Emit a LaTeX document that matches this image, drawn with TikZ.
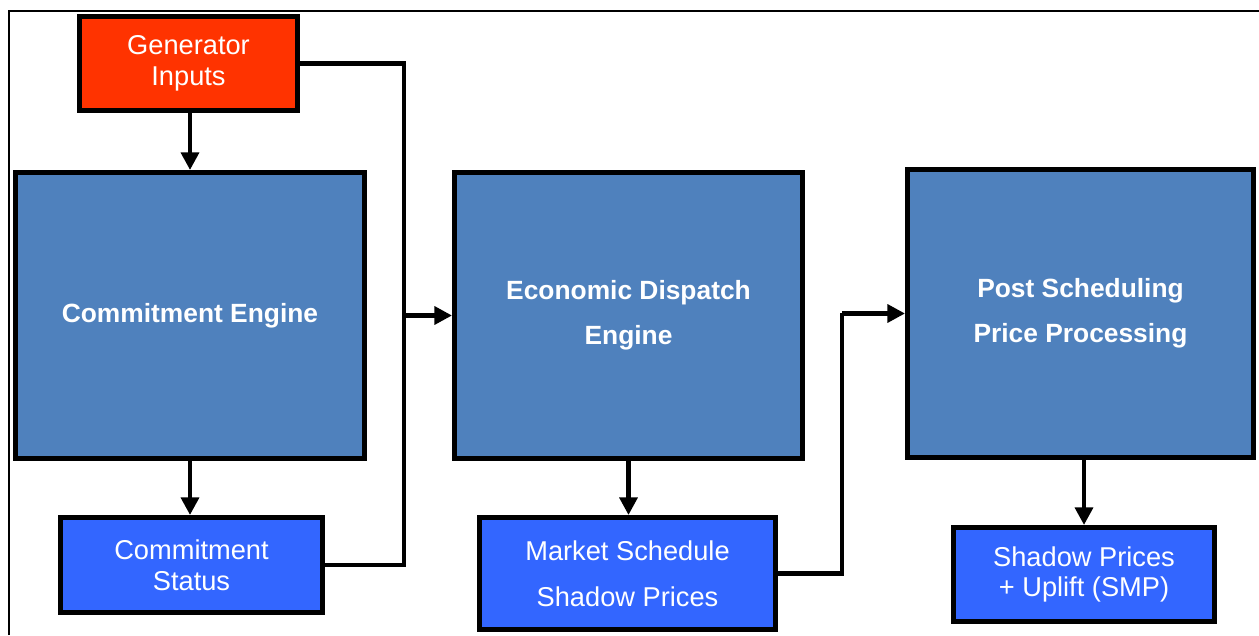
\documentclass[tikz,border=0pt]{standalone}
\usepackage{fontspec}
\setmainfont{Liberation Sans}
\usetikzlibrary{arrows.meta,positioning}

\definecolor{genred}{RGB}{255,51,0}
\definecolor{engblue}{RGB}{79,129,189}
\definecolor{outblue}{RGB}{51,102,255}

\begin{document}
\begin{tikzpicture}[
    box/.style={rectangle,draw=black,line width=2.8pt,text=white,align=center},
    engine/.style={box,fill=engblue,font=\fontsize{15}{25.5}\selectfont\bfseries},
    result/.style={box,fill=outblue,font=\fontsize{15.5}{17.5}\selectfont},
    link/.style={line width=2.5pt},
    flow/.style={link,-{Triangle[length=10pt,width=10pt]}}
  ]
      \useasboundingbox (0,0) rectangle (25.18,12.7);
      % frame
      \draw[line width=1.6pt] (0.18,0) -- (0.18,12.48) -- (25.18,12.48);

      % Commitment stage
      \node[box,fill=genred,font=\fontsize{15.5}{17.5}\selectfont,minimum width=4.36cm, minimum height=1.88cm] (gen) at (3.77,11.43) {Generator\\Inputs};
      \node[engine,minimum width=6.98cm, minimum height=5.72cm] (ce) at (3.80,6.39) {Commitment Engine};
      \node[result,minimum width=5.24cm, minimum height=1.9cm] (cs) at (3.83,1.40) {Commitment\\Status};

      % Dispatch stage
      \node[engine,minimum width=6.96cm, minimum height=5.72cm] (ed) at (12.57,6.39) {Economic Dispatch\\Engine};
      \node[result,font=\fontsize{15.5}{26}\selectfont,minimum width=5.92cm, minimum height=2.24cm] (ms) at (12.55,1.23) {Market Schedule\\Shadow Prices};

      % Pricing stage
      \node[engine,minimum width=6.92cm, minimum height=5.76cm] (ps) at (21.61,6.43) {Post Scheduling\\Price Processing};
      \node[result,minimum width=5.22cm, minimum height=1.88cm] (sp) at (21.68,1.21) {Shadow Prices\\+ Uplift (SMP)};

      \coordinate (bus1) at (8.08,6.39);
      \coordinate (bus2) at (16.84,6.43);

      \draw[flow] (gen.south -| ce.north) -- (ce.north);
      \draw[flow] (ce.south) -- (ce.south |- cs.north);
      \draw[link] (gen.east) -| (bus1) |- (cs.east);
      \draw[flow] (bus1) -- (ed.west);
      \draw[flow] (ed.south) -- (ed.south |- ms.north);
      \draw[link] (ms.east) -| (bus2);
      \draw[flow] (bus2) -- (ps.west);
      \draw[flow] (ps.south -| sp.north) -- (sp.north);
\end{tikzpicture}
\end{document}
